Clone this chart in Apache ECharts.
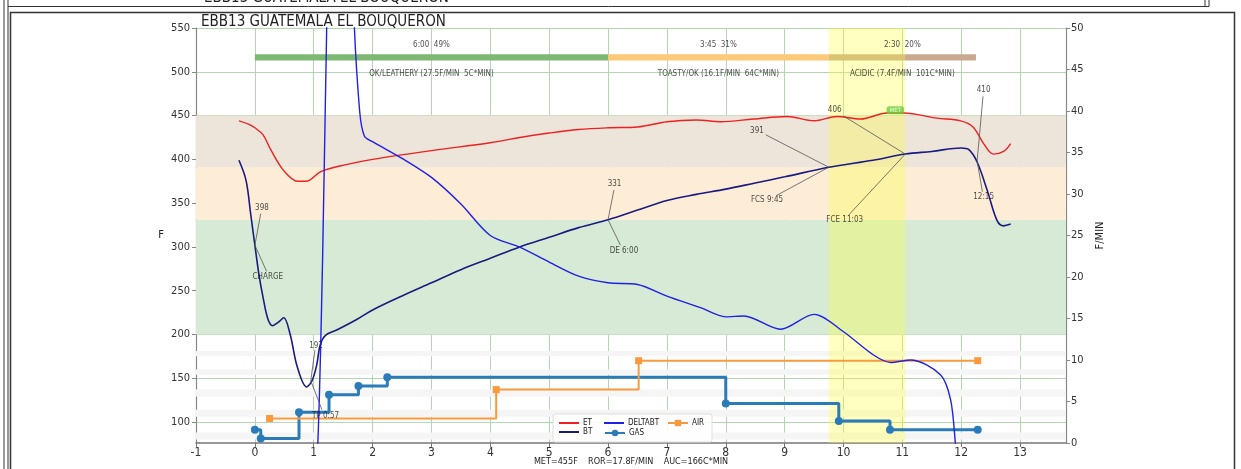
<!DOCTYPE html>
<html>
<head>
<meta charset="utf-8">
<script src="https://cdn.jsdelivr.net/npm/echarts@6/dist/echarts.min.js"></script>
<style>html,body{margin:0;padding:0;background:#fff}#chart{width:1241px;height:469px}</style>
</head>
<body>
<div id="chart"></div>
<script>
"use strict";
var FONT = "'DejaVu Sans Condensed','DejaVu Sans',sans-serif";

// curves, time in minutes
var etTime = [-0.27, -0.1, 0, 0.14, 0.27, 0.48, 0.73, 0.87, 1.12, 1.55, 2.0, 3.0, 4.0, 4.5, 5.0, 5.5, 6.0, 6.5, 7.0, 7.5, 7.91, 8.47, 9.04, 9.5, 9.89, 10.29, 10.74, 11.02, 11.59, 11.99, 12.2, 12.38, 12.55, 12.72, 12.84];
var etTemp = [444, 440, 436, 428, 411, 388, 375, 375, 386, 394, 400, 410, 419, 425, 430, 434, 436, 437, 443, 445, 443, 446, 449, 444, 449, 446, 453, 453, 447, 444, 437, 418, 406, 409, 418];
var btTime = [-0.27, -0.15, -0.07, 0, 0.07, 0.14, 0.22, 0.3, 0.4, 0.49, 0.6, 0.72, 0.88, 0.97, 1.05, 1.11, 1.2, 1.39, 1.73, 2.0, 2.5, 3.0, 3.5, 4.0, 4.5, 5.0, 5.5, 6.0, 6.5, 7.0, 7.5, 8.0, 8.5, 9.0, 9.75, 10.5, 11.05, 11.5, 12.0, 12.13, 12.27, 12.44, 12.61, 12.72, 12.84];
var btTemp = [399, 376, 337, 302, 268, 242, 218, 210, 214, 219, 200, 163, 140, 147, 165, 188, 199, 205, 217, 228, 244, 259, 274, 287, 300, 311, 322, 331, 342, 353, 360, 366, 373, 380, 391, 399, 406, 409, 413, 411, 397, 365, 330, 324, 326];
var rorTime = [1.0, 1.07, 1.15, 1.22, 1.3, 1.45, 1.6, 1.68, 1.78, 1.86, 2.0, 2.5, 3.0, 3.5, 4.0, 4.5, 5.0, 5.5, 6.0, 6.5, 7.0, 7.57, 8.0, 8.31, 8.93, 9.5, 10.0, 10.51, 10.8, 11.14, 11.65, 11.82, 11.9, 11.95];
var rorValue = [-5, 0, 22, 50, 75, 90, 75, 52, 40, 37, 36.3, 34.3, 32.0, 28.8, 25.0, 23.6, 21.8, 20.1, 19.3, 19.1, 17.7, 16.3, 15.2, 15.3, 13.7, 15.5, 13.4, 10.6, 9.7, 10.0, 8.2, 5.2, 0, -5];
var gasTime = [0, 0.1, 0.75, 1.26, 1.76, 2.25, 8.0, 9.92, 10.79, 12.28];
var gasValue = [91, 81, 111, 131, 141, 151, 121, 101, 91, 91];
var airTime = [0.25, 4.1, 6.52, 12.28];
var airValue = [104, 137, 170, 170];

// roast phases
var phaseStart = [0, 6, 9.75];
var phaseEnd = [6, 9.75, 12.25];
var phaseTimes = ['6:00  49%', '3:45  31%', '2:30  20%'];
var phaseDesc = ['OK/LEATHERY (27.5F/MIN  5C*MIN)', 'TOASTY/OK (16.1F/MIN  64C*MIN)', 'ACIDIC (7.4F/MIN  101C*MIN)'];
var phaseColors = ['#7cb872', '#fbc978', '#c9a88f'];
var bandLimits = [200, 331, 391, 450];
var bandColors = ['#d6ead5', '#fdedd6', '#ede4da'];
var stripes = [[80, 88], [106, 114], [129, 137], [154, 160], [175, 181]];
var fcStart = 9.75, fcEnd = 11.05;

// annotations: point on curve, value label, event label
var annPoint = [[0, 302], [0.95, 147], [6.0, 331], [9.75, 391], [11.05, 406], [12.27, 398]];
var annValueText = ['398', '192', '331', '391', '406', '410'];
var annValuePos = [[0.12, 344], [1.04, 187], [6.11, 372], [8.53, 432], [9.85, 456], [12.38, 479]];
var annValueEnd = [[0.1, 338], [1.02, 182], [6.1, 365], [8.68, 428], [10.0, 449.5], [12.37, 472]];
var annEventText = ['CHARGE', 'TP 0:57', 'DE 6:00', 'FCS 9:45', 'FCE 11:03', '12:15'];
var annEventPos = [[0.22, 266], [1.2, 107], [6.27, 295], [8.7, 354], [10.02, 331], [12.38, 357]];
var annEventEnd = [[0.2, 272], [1.14, 114], [6.21, 302], [8.87, 359], [10.09, 336.5], [12.36, 363]];
var metPos = [10.88, 456];

var leftTicks = [100, 150, 200, 250, 300, 350, 400, 450, 500, 550];
var bottomText = 'MET=455F    ROR=17.8F/MIN    AUC=166C*MIN';
var titleText = 'EBB13 GUATEMALA EL BOUQUERON';

function zip(a, b) { return a.map(function (v, i) { return [v, b[i]]; }); }

var myChart = echarts.init(document.getElementById('chart'));

var areas = [];
for (var i = 0; i < bandColors.length; i++) {
    areas.push([{ yAxis: bandLimits[i], itemStyle: { color: bandColors[i] } }, { yAxis: bandLimits[i + 1] }]);
}
stripes.forEach(function (s) {
    areas.push([{ yAxis: s[0], itemStyle: { color: '#f5f5f5' } }, { yAxis: s[1] }]);
});
phaseStart.forEach(function (s, i) {
    areas.push([{ coord: [s, 513], itemStyle: { color: phaseColors[i] } }, { coord: [phaseEnd[i], 520] }]);
});
areas.push([{ xAxis: fcStart, itemStyle: { color: 'rgba(255,255,60,0.32)' } }, { xAxis: fcEnd }]);

var annLines = [];
annPoint.forEach(function (p, i) {
    annLines.push({ coords: [annValueEnd[i], p] });
    annLines.push({ coords: [p, annEventEnd[i]] });
});
var annLabels = [];
annPoint.forEach(function (p, i) {
    annLabels.push({ value: annValuePos[i], name: annValueText[i] });
    annLabels.push({ value: annEventPos[i], name: annEventText[i] });
});
phaseStart.forEach(function (s, i) {
    var c = (s + phaseEnd[i]) / 2;
    annLabels.push({ value: [c, 531], name: phaseTimes[i] });
    annLabels.push({ value: [c, 497], name: phaseDesc[i] });
});

function legendAt(left, top, names, lineOnly) {
    var l = {
        orient: 'vertical', left: left, top: top, data: names, itemGap: 2,
        itemWidth: 20, itemHeight: 8, padding: 0,
        textStyle: { fontSize: 8, fontFamily: FONT, color: '#222', padding: [0, 0, 0, -1] }, z: 10
    };
    if (lineOnly) { l.icon = 'rect'; l.itemHeight = 2; l.itemGap = 1; }
    return l;
}

var option = {
    animation: false,
    backgroundColor: '#fff',
    textStyle: { fontFamily: FONT },
    title: {
        text: titleText, left: 196, top: 10,
        textStyle: { fontSize: 15, fontWeight: 'normal', color: '#222', fontFamily: FONT }
    },
    grid: { left: 196, right: 175, top: 28, bottom: 26, outerBoundsMode: 'none', containLabel: false },
    legend: [
        legendAt(559, 419, ['ET', 'BT'], true),
        legendAt(604, 419, ['DELTABT'], true),
        legendAt(604, 429, ['GAS'], false),
        legendAt(667, 419, ['AIR'], false)
    ],
    xAxis: {
        type: 'value', min: -1, max: 13.78, interval: 1,
        axisLine: { onZero: false, lineStyle: { color: '#777', width: 1.5 } },
        axisTick: { length: 4, lineStyle: { color: '#777' } },
        axisLabel: { showMaxLabel: false, fontSize: 12, color: '#333', margin: 4, fontFamily: FONT },
        splitLine: { show: true, lineStyle: { color: '#b3d7b0', width: 1 } }
    },
    yAxis: [{
        type: 'value', min: 76, max: 550, position: 'left',
        name: 'F', nameLocation: 'middle', nameGap: 32, nameRotate: 0,
        nameTextStyle: { fontSize: 11, color: '#222', fontFamily: FONT },
        axisLine: { show: true, onZero: false, lineStyle: { color: '#888', width: 1.2 } },
        axisTick: { show: true, length: 4, customValues: leftTicks, lineStyle: { color: '#888' } },
        axisLabel: { customValues: leftTicks, fontSize: 11, color: '#333', margin: 6, fontFamily: FONT },
        splitLine: { show: true, lineStyle: { color: '#b3d7b0', width: 1 } }
    }, {
        type: 'value', min: 0, max: 50, interval: 5, position: 'right',
        name: 'F/MIN', nameLocation: 'middle', nameGap: 27, nameRotate: 90,
        nameTextStyle: { fontSize: 11, color: '#222', fontFamily: FONT },
        axisLine: { show: true, onZero: false, lineStyle: { color: '#888', width: 1.2 } },
        axisTick: { show: true, length: 4, lineStyle: { color: '#888' } },
        axisLabel: { fontSize: 11, color: '#333', margin: 5, fontFamily: FONT },
        splitLine: { show: false }
    }],
    graphic: [
        { type: 'line', shape: { x1: 4, y1: 0, x2: 4, y2: 469 }, style: { stroke: '#333', lineWidth: 1 } },
        { type: 'line', shape: { x1: 8, y1: 0, x2: 8, y2: 469 }, style: { stroke: '#333', lineWidth: 1 } },
        { type: 'line', shape: { x1: 8, y1: 6.5, x2: 1209, y2: 6.5 }, style: { stroke: '#333', lineWidth: 1 } },
        { type: 'line', shape: { x1: 1205, y1: 0, x2: 1205, y2: 6.5 }, style: { stroke: '#333', lineWidth: 1 } },
        { type: 'line', shape: { x1: 1209, y1: 0, x2: 1209, y2: 6.5 }, style: { stroke: '#333', lineWidth: 1 } },
        { type: 'rect', shape: { x: 10.5, y: 12.5, width: 1224, height: 470 }, style: { fill: 'none', stroke: '#333', lineWidth: 1.5 } },
        { type: 'text', x: 204, y: -9, style: { text: titleText, fontSize: 15, fontFamily: FONT, fill: '#222' } },
        { type: 'text', x: 631, y: 462, style: { text: bottomText, fontSize: 9, fontFamily: FONT, fill: '#222', align: 'center', verticalAlign: 'middle' } },
        { type: 'rect', z: 5, shape: { x: 553, y: 414, width: 159, height: 28, r: 2 }, style: { fill: 'rgba(255,255,255,0.85)', stroke: '#ddd', lineWidth: 1 } }
    ],
    series: [
        {
            name: 'bands', type: 'line', data: [[-1, 76]], symbol: 'none', silent: true, z: 1,
            lineStyle: { opacity: 0 },
            markArea: { silent: true, data: areas }
        },
        {
            name: 'ET', type: 'line', data: zip(etTime, etTemp), smooth: 0.35, symbol: 'none',
            color: '#ee2020', lineStyle: { width: 1.4 }, z: 4
        },
        {
            name: 'BT', type: 'line', data: zip(btTime, btTemp), smooth: 0.35, symbol: 'none',
            color: '#1a1a80', lineStyle: { width: 1.6 }, z: 4
        },
        {
            name: 'DELTABT', type: 'line', yAxisIndex: 1, data: zip(rorTime, rorValue), smooth: 0.3, symbol: 'none',
            color: '#2020e6', lineStyle: { width: 1.4 }, clip: true, z: 4
        },
        {
            name: 'GAS', type: 'line', data: zip(gasTime, gasValue), step: 'end', symbol: 'circle', symbolSize: 8,
            color: '#2a7bb8', lineStyle: { width: 3 }, z: 3
        },
        {
            name: 'AIR', type: 'line', data: zip(airTime, airValue), step: 'end', symbol: 'rect', symbolSize: 7,
            color: '#fb9a3c', lineStyle: { width: 2 }, z: 3
        },
        {
            name: 'annLines', type: 'lines', coordinateSystem: 'cartesian2d', silent: true, z: 6,
            lineStyle: { color: '#555', width: 0.8, opacity: 1, curveness: 0 },
            data: annLines
        },
        {
            name: 'annText', type: 'scatter', silent: true, symbolSize: 1, z: 7,
            itemStyle: { color: 'rgba(0,0,0,0)' },
            label: { show: true, position: 'inside', formatter: '{b}', fontSize: 8, color: '#222', fontFamily: FONT },
            data: annLabels
        },
        {
            name: 'met', type: 'scatter', silent: true, symbolSize: 1, z: 7,
            itemStyle: { color: 'rgba(0,0,0,0)' },
            label: {
                show: true, position: 'inside', formatter: 'MET', fontSize: 6, color: '#fff', fontFamily: FONT,
                backgroundColor: '#6ccd3a', borderRadius: 3, padding: [1, 3]
            },
            data: [metPos]
        }
    ]
};
myChart.setOption(option);

window.onresize = function () {
    myChart.resize();
};
</script>
</body>
</html>
